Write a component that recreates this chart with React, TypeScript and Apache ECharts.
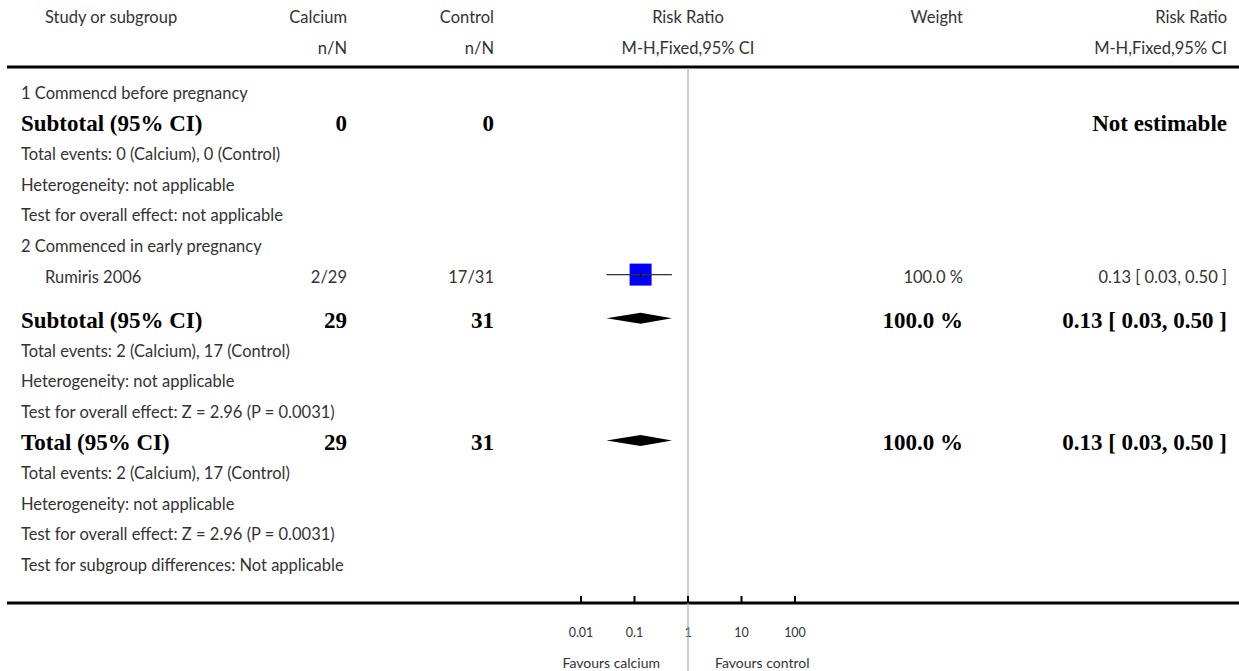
import React, { useEffect, useRef } from "react";
import * as echarts from "echarts";

const headerRow1 = ["Study or subgroup", "Calcium", "Control", "Risk Ratio", "Weight", "Risk Ratio"];
const headerRow2 = ["", "n/N", "n/N", "M-H,Fixed,95% CI", "", "M-H,Fixed,95% CI"];

const rowKinds = ["group", "subtotal", "info", "info", "info", "group", "study", "subtotal", "info", "info", "info", "total", "info", "info", "info", "info"];
const rowLabels = [
  "1 Commencd before pregnancy",
  "Subtotal (95% CI)",
  "Total events: 0 (Calcium), 0 (Control)",
  "Heterogeneity: not applicable",
  "Test for overall effect: not applicable",
  "2 Commenced in early pregnancy",
  "Rumiris 2006",
  "Subtotal (95% CI)",
  "Total events: 2 (Calcium), 17 (Control)",
  "Heterogeneity: not applicable",
  "Test for overall effect: Z = 2.96 (P = 0.0031)",
  "Total (95% CI)",
  "Total events: 2 (Calcium), 17 (Control)",
  "Heterogeneity: not applicable",
  "Test for overall effect: Z = 2.96 (P = 0.0031)",
  "Test for subgroup differences: Not applicable",
];
const calciumValues = ["", "0", "", "", "", "", "2/29", "29", "", "", "", "29", "", "", "", ""];
const controlValues = ["", "0", "", "", "", "", "17/31", "31", "", "", "", "31", "", "", "", ""];
const weightValues = ["", "", "", "", "", "", "100.0 %", "100.0 %", "", "", "", "100.0 %", "", "", "", ""];
const effectTexts = ["", "Not estimable", "", "", "", "", "0.13 [ 0.03, 0.50 ]", "0.13 [ 0.03, 0.50 ]", "", "", "", "0.13 [ 0.03, 0.50 ]", "", "", "", ""];
const riskRatio = [null, null, null, null, null, null, 0.13, 0.13, null, null, null, 0.13, null, null, null, null];
const ciLower = [null, null, null, null, null, null, 0.03, 0.03, null, null, null, 0.03, null, null, null, null];
const ciUpper = [null, null, null, null, null, null, 0.5, 0.5, null, null, null, 0.5, null, null, null, null];

const axisTicks = [0.01, 0.1, 1, 10, 100];
const axisTickLabels = ["0.01", "0.1", "1", "10", "100"];
const favourLabels = ["Favours calcium", "Favours control"];

// layout
const W = 1239;
const H = 671;
const AXIS_Y = 603;
const HEADER_LINE_Y = 67;
const PLOT_LEFT = 581;
const PLOT_RIGHT = 795;
const REG = "Lato, 'Open Sans', sans-serif";
const SERIF = "'Liberation Serif', 'DejaVu Serif', serif";
const REG_SIZE = 16.5;
const BOLD_SIZE = 23;
const rowY = (i: number) => 93 + i * 30.6 + (i >= 7 ? 13 : 0);

const txt = (text: string, x: number, y: number, align: string, bold = false, size?: number, color?: string) => ({
  type: "text",
  x,
  y,
  silent: true,
  style: {
    text,
    x: 0,
    y: 0,
    fill: color || (bold ? "#000" : "#333"),
    fontFamily: bold ? SERIF : REG,
    fontWeight: bold ? "bold" : "normal",
    fontSize: size || (bold ? BOLD_SIZE : REG_SIZE),
    align,
    textAlign: align,
    verticalAlign: "middle",
    textVerticalAlign: "middle",
  },
});

export default function App() {
  const ref = useRef<HTMLDivElement>(null);
  useEffect(() => {
    if (!ref.current) return;
    const chart = echarts.init(ref.current, undefined, { renderer: "svg" });

    const graphics: any[] = [];
    const hx = [45, 347, 494, 688, 963, 1227];
    const ha = ["left", "right", "right", "center", "right", "right"];
    headerRow1.forEach((t, k) => { if (t) graphics.push(txt(t, hx[k], 17, ha[k])); });
    headerRow2.forEach((t, k) => { if (t) graphics.push(txt(t, hx[k], 48, ha[k])); });
    graphics.push({ type: "line", silent: true, shape: { x1: 7, y1: HEADER_LINE_Y, x2: W, y2: HEADER_LINE_Y }, style: { stroke: "#000", lineWidth: 3 } });
    graphics.push({ type: "line", silent: true, shape: { x1: 7, y1: AXIS_Y, x2: W, y2: AXIS_Y }, style: { stroke: "#000", lineWidth: 3 } });

    rowLabels.forEach((label, i) => {
      const kind = rowKinds[i];
      const bold = kind === "subtotal" || kind === "total";
      const y = rowY(i);
      graphics.push(txt(label, kind === "study" ? 45 : 21, y, "left", bold));
      if (calciumValues[i]) graphics.push(txt(calciumValues[i], 347, y, "right", bold));
      if (controlValues[i]) graphics.push(txt(controlValues[i], 494, y, "right", bold));
      if (weightValues[i]) graphics.push(txt(weightValues[i], 963, y, "right", bold));
      if (effectTexts[i]) graphics.push(txt(effectTexts[i], 1227, y, "right", bold));
    });

    graphics.push(txt(favourLabels[0], 660, 662, "right", false, 14));
    graphics.push(txt(favourLabels[1], 715, 662, "left", false, 14));

    const markData: any[] = [];
    riskRatio.forEach((rr, i) => {
      if (rr == null) return;
      markData.push([rr, rowY(i) - 2, ciLower[i], ciUpper[i], rowKinds[i] === "study" ? 0 : 1]);
    });

    chart.setOption({
      animation: false,
      backgroundColor: "#fff",
      grid: { left: PLOT_LEFT, width: PLOT_RIGHT - PLOT_LEFT, top: 0, height: AXIS_Y },
      xAxis: {
        type: "log",
        logBase: 10,
        min: 0.01,
        max: 100,
        position: "bottom",
        axisLine: { show: false, onZero: false },
        splitLine: { show: false },
        axisTick: { show: false },
        axisLabel: {
          margin: 23,
          fontSize: 12.5,
          fontFamily: REG,
          color: "#333",
          formatter: (v: number) => {
            let best = 0;
            axisTicks.forEach((t, k) => { if (Math.abs(Math.log10(t) - Math.log10(v)) < Math.abs(Math.log10(axisTicks[best]) - Math.log10(v))) best = k; });
            return axisTickLabels[best];
          },
        },
      },
      yAxis: { type: "value", min: 0, max: AXIS_Y, inverse: true, show: false },
      series: [
        {
          type: "custom",
          clip: false,
          z: 1,
          data: [[1, HEADER_LINE_Y, H]],
          encode: { x: 0, y: 1 },
          renderItem: (params: any, api: any) => {
            const a = api.coord([api.value(0), api.value(1)]);
            const b = api.coord([api.value(0), api.value(2)]);
            return { type: "line", shape: { x1: a[0], y1: a[1] + 1.5, x2: b[0], y2: b[1] }, style: { stroke: "#aaa", lineWidth: 1.2 } };
          },
        },
        {
          type: "custom",
          clip: false,
          z: 4,
          data: axisTicks.map((t) => [t, AXIS_Y]),
          encode: { x: 0, y: 1 },
          renderItem: (params: any, api: any) => {
            const p = api.coord([api.value(0), api.value(1)]);
            return { type: "line", shape: { x1: p[0], y1: p[1], x2: p[0], y2: p[1] - 7 }, style: { stroke: "#000", lineWidth: 2 } };
          },
        },
        {
          type: "custom",
          clip: false,
          z: 3,
          data: markData,
          encode: { x: 0, y: 1 },
          renderItem: (params: any, api: any) => {
            const rr = api.value(0), y = api.value(1), lo = api.value(2), hi = api.value(3), kind = api.value(4);
            const c = api.coord([rr, y]);
            const l = api.coord([lo, y]);
            const h = api.coord([hi, y]);
            if (kind === 0) {
              return {
                type: "group",
                children: [
                  { type: "rect", shape: { x: c[0] - 11, y: c[1] - 11, width: 22, height: 22 }, style: { fill: "#0000ff" } },
                  { type: "line", shape: { x1: l[0], y1: c[1], x2: h[0], y2: c[1] }, style: { stroke: "#333", lineWidth: 1.2 } },
                  { type: "line", shape: { x1: c[0], y1: c[1] - 3, x2: c[0], y2: c[1] + 3 }, style: { stroke: "#000", lineWidth: 1 } },
                ],
              };
            }
            return {
              type: "polygon",
              shape: { points: [[l[0], c[1]], [c[0], c[1] - 5.5], [h[0], c[1]], [c[0], c[1] + 5.5]] },
              style: { fill: "#000" },
            };
          },
        },
      ],
      graphic: graphics,
    });
    return () => chart.dispose();
  }, []);
  return <div ref={ref} style={{ position: "fixed", left: 0, top: 0, width: W, height: H, background: "#fff" }} />;
}
